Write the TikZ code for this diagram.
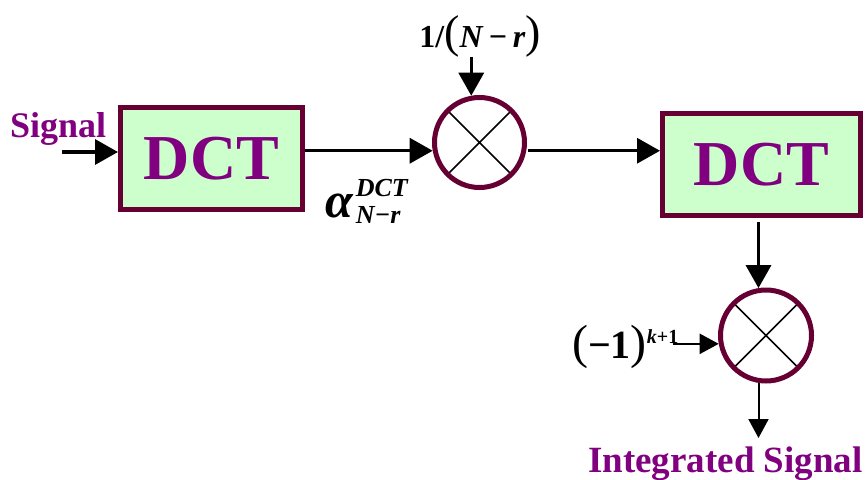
\documentclass[tikz,border=0pt]{standalone}
\usepackage{fontspec}
\setmainfont{Liberation Serif}
\usetikzlibrary{arrows.meta,calc,positioning}
\definecolor{BlockEdge}{HTML}{660033}
\definecolor{BlockFill}{HTML}{CCFFCC}
\definecolor{LabelInk}{HTML}{800080}
\newcommand{\fsz}[1]{\fontsize{#1}{#1}\selectfont}
\tikzset{
  dctbox/.style={draw=BlockEdge, line width=5pt, fill=BlockFill, minimum height=102pt, inner sep=0pt, font=\fsz{64}\bfseries, text=LabelInk},
  mixer/.style={circle, draw=BlockEdge, line width=5pt, fill=white, minimum size=90pt, inner sep=0pt,
    path picture={\draw[black, line width=1.5pt] (path picture bounding box.north west) -- (path picture bounding box.south east)
      (path picture bounding box.south west) -- (path picture bounding box.north east);}},
  feed/.style={-{Triangle[length=23pt,width=25pt]}, line width=3.3pt},
  tap/.style={-{Triangle[length=19pt,width=20pt]}, line width=2pt},
  caption/.style={font=\fsz{37}\bfseries, text=LabelInk, inner sep=0pt},
  formula/.style={inner sep=0pt, text=black},
}

\begin{document}
\begin{tikzpicture}[x=1pt,y=-1pt]
  \useasboundingbox (0,0) rectangle (867,479);

  % Transform blocks and multipliers
  \node[dctbox, minimum width=182pt] (dctA) at (211.5,158.5) {DCT};
  \node[dctbox, minimum width=198pt] (dctB) at (761.5,164.5) {DCT};
  \node[mixer] (mulA) at (479.5,142.5) {};
  \node[mixer, minimum size=91pt] (mulB) at (766,335.5) {};

  % Input and output captions
  \node[caption, font=\fsz{36}\bfseries, anchor=base west] (input) at (10,137) {Signal};
  \node[caption, anchor=base west] (output) at (588,472) {Integrated Signal};

  % Formula labels
  \node[formula, anchor=base] (scale) at (480,47)
    {{\fsz{32}\bfseries 1/}{\fsz{46}(}{\fsz{32}\bfseries\itshape N\,−\,r}{\fsz{46})}};
  \node[formula, anchor=base west] (coef) at (325,217)
    {{\fsz{50}\bfseries\itshape α}\kern3pt\rlap{\raisebox{21pt}{\fsz{26}\bfseries\itshape DCT}}\raisebox{-6pt}{\fsz{26}\bfseries\itshape N−r}};
  \node[formula, anchor=base west] (sign) at (572,358)
    {{\fsz{48}(}{\fsz{40}\bfseries −1}{\fsz{48})}\raisebox{15pt}{\fsz{20}\bfseries\itshape k\upshape+1}};

  % Signal path
  \coordinate (inStart) at (62,152);
  \draw[feed] (inStart) -- (inStart -| dctA.west);
  \draw[feed] (dctA.east |- mulA.190) -- (mulA.190);
  \draw[feed, shorten <=2pt] (mulA.350) -- (mulA.350 -| dctB.west);
  \draw[feed] (scale.south -| mulA.100) -- (mulA.100);
  \draw[feed, shorten <=4pt] (dctB.south -| mulB.99) -- (mulB.99);
  \draw[tap, shorten <=-6pt] (sign.east |- mulB.190) -- (mulB.190);
  \coordinate (outEnd) at (759,438);
  \draw[tap] (mulB.261) -- (mulB.261 |- outEnd);
\end{tikzpicture}
\end{document}
